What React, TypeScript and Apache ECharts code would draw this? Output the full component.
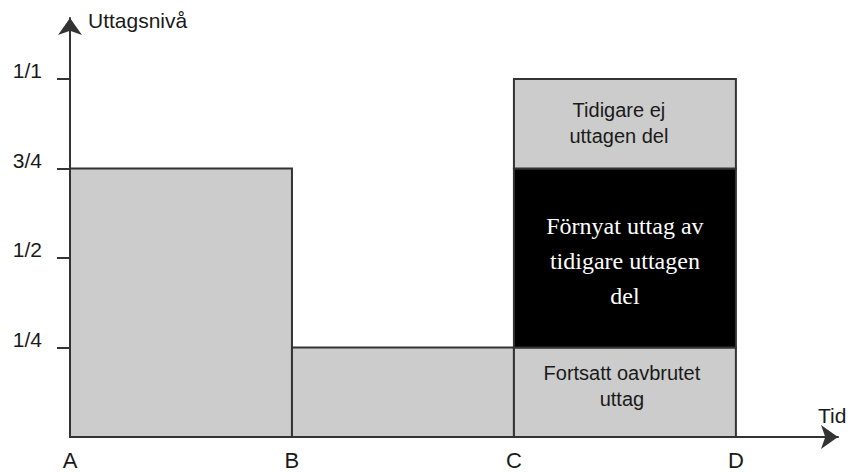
import React, { useEffect, useRef } from "react";
import * as echarts from "echarts";

const categories = ["A", "B", "C", "D"];
const categoryValues = [0, 1, 2, 3];
const tickLabels = ["1/4", "1/2", "3/4", "1/1"];
const tickValues = [0.25, 0.5, 0.75, 1];
const segStart = [0, 1, 2, 2, 2];
const segEnd = [1, 2, 3, 3, 3];
const segLow = [0, 0, 0, 0.25, 0.75];
const segHigh = [0.75, 0.25, 0.25, 0.75, 1];
const segKind = ["base", "base", "base", "renewed", "base"];
const segText = [
  "",
  "",
  "Fortsatt oavbrutet\nuttag",
  "Förnyat uttag av\ntidigare uttagen\ndel",
  "Tidigare ej\nuttagen del",
];
const yAxisName = "Uttagsnivå";
const xAxisName = "Tid";

const SANS = "'Liberation Sans', Arial, Helvetica, sans-serif";
const SERIF = "'Liberation Serif', 'Times New Roman', serif";

export default function App() {
  const ref = useRef<HTMLDivElement>(null);
  useEffect(() => {
    if (!ref.current) return;
    const chart = echarts.init(ref.current, null, { renderer: "svg" });
    const data = segStart.map((s, i) => [s, segEnd[i], segLow[i], segHigh[i], i]);
    const axisLineStyle = { color: "#333", width: 2 };
    chart.setOption({
      animation: false,
      grid: { left: 70, right: 10, top: 18, bottom: 35 },
      xAxis: {
        type: "value",
        min: 0,
        max: 3.46,
        interval: 1,
        splitLine: { show: false },
        axisLine: {
          show: true,
          onZero: false,
          symbol: ["none", "arrow"],
          symbolSize: [18, 17],
          lineStyle: axisLineStyle,
        },
        axisTick: { show: false },
        axisLabel: {
          customValues: categoryValues,
          formatter: (v: number) => categories[Math.round(v)] ?? "",
          margin: 12,
          color: "#1a1a1a",
          fontFamily: SANS,
          fontSize: 22,
        },
      },
      yAxis: {
        type: "value",
        min: 0,
        max: 1.17,
        interval: 0.25,
        splitLine: { show: false },
        axisLine: {
          show: true,
          onZero: false,
          symbol: ["none", "arrow"],
          symbolSize: [18, 17],
          lineStyle: axisLineStyle,
        },
        axisTick: {
          show: true,
          customValues: tickValues,
          length: 13,
          lineStyle: { color: "#333", width: 2 },
        },
        axisLabel: {
          customValues: tickValues,
          formatter: (v: number) => {
            const idx = tickValues.findIndex((t) => Math.abs(t - v) < 1e-6);
            return idx >= 0 ? tickLabels[idx] : "";
          },
          margin: 28,
          verticalAlign: "bottom",
          lineHeight: 16,
          color: "#1a1a1a",
          fontFamily: SANS,
          fontSize: 21,
        },
      },
      graphic: [
        {
          type: "text",
          x: 88,
          y: 20,
          style: {
            text: yAxisName,
            font: `21px ${SANS}`,
            fill: "#1a1a1a",
            verticalAlign: "middle",
            align: "left",
          },
        },
        {
          type: "text",
          x: 818,
          y: 415,
          style: {
            text: xAxisName,
            font: `21px ${SANS}`,
            fill: "#1a1a1a",
            verticalAlign: "middle",
            align: "left",
          },
        },
      ],
      series: [
        {
          type: "custom",
          clip: false,
          data,
          encode: { x: [0, 1], y: [2, 3] },
          renderItem: (params: any, api: any) => {
            const x0 = api.value(0);
            const x1 = api.value(1);
            const y0 = api.value(2);
            const y1 = api.value(3);
            const i = api.value(4);
            const tl = api.coord([x0, y1]);
            const br = api.coord([x1, y0]);
            const renewed = segKind[i] === "renewed";
            const text = segText[i];
            const el: any = {
              type: "rect",
              shape: { x: tl[0], y: tl[1], width: br[0] - tl[0], height: br[1] - tl[1] },
              style: { fill: renewed ? "#000000" : "#cccccc", stroke: "#333333", lineWidth: 2 },
            };
            if (text) {
              el.textContent = {
                style: renewed
                  ? { text, fill: "#ffffff", font: `24px ${SERIF}`, lineHeight: 35, align: "center" }
                  : { text, fill: "#1a1a1a", font: `20px ${SANS}`, lineHeight: 26, align: "center" },
              };
              el.textConfig = {
                position: "inside",
                offset: renewed ? [0, 3] : i === 2 ? [-3, -6] : [-6, -1],
              };
            }
            return el;
          },
        },
      ],
    });
    return () => chart.dispose();
  }, []);
  return <div ref={ref} style={{ width: 848, height: 472, position: "absolute", left: 0, top: 0 }} />;
}
